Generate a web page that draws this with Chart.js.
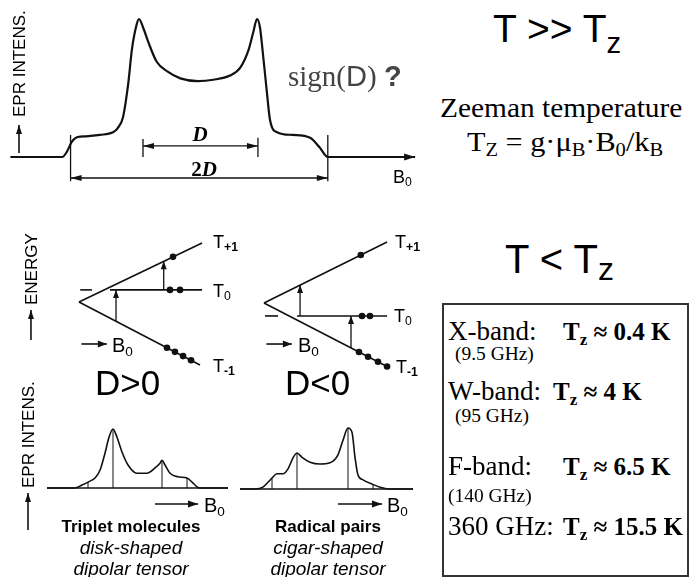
<!DOCTYPE html>
<html>
<head>
<meta charset="utf-8">
<script src="https://cdn.jsdelivr.net/npm/chart.js@4.4.1/dist/chart.umd.min.js"></script>
<style>
  body { margin: 0; background: #fff; }
  #page { position: relative; width: 689px; height: 577px; overflow: hidden; background: #fff; }
  canvas { position: absolute; }
  .t { position: absolute; line-height: 1; white-space: nowrap; color: #000; transform-origin: left top; }
  .sans { font-family: "Liberation Sans", Arial, sans-serif; }
  .serif { font-family: "Liberation Serif", "Times New Roman", serif; }
  .sb { font-size: 0.68em; position: relative; top: 0.28em; }
  .rot { transform: rotate(-90deg); }
  .cap { width: 200px; text-align: center; }
  .wide { transform: scaleX(1.08); }
  #box { position: absolute; left: 442px; top: 303px; width: 243px; height: 270px; border: 2px solid #333; }
</style>
</head>
<body>
<div id="page">
  <canvas id="topChart"></canvas>
  <canvas id="posLevels"></canvas>
  <canvas id="negLevels"></canvas>
  <canvas id="posSpectrum"></canvas>
  <canvas id="negSpectrum"></canvas>

  <!-- high temperature powder spectrum -->
  <div class="t sans rot" style="left:11px;top:117px;font-size:17px">EPR INTENS.</div>
  <div class="t serif cap" style="left:100px;top:124px;font-size:21px;font-weight:bold;font-style:italic">D</div>
  <div class="t serif cap" style="left:104px;top:159px;font-size:21px;font-weight:bold">2<i>D</i></div>
  <div class="t sans" style="left:393px;top:168px;font-size:18px">B<span class="sb">0</span></div>
  <div class="t serif" style="left:288px;top:62px;font-size:29px;color:#444">sign(<span class="sans">D</span>) <b class="sans">?</b></div>

  <div class="t sans" style="left:493px;top:9px;font-size:39px">T &gt;&gt; T<span style="font-size:0.75em;position:relative;top:0.38em">z</span></div>
  <div class="t serif" style="left:440px;top:94px;font-size:28px;transform:scaleX(1.05)">Zeeman temperature</div>
  <div class="t serif wide" style="left:467px;top:128px;font-size:28px">T<span class="sb">Z</span> = g·μ<span class="sb">B</span>·B<span class="sb">0</span>/k<span class="sb">B</span></div>

  <!-- level schemes -->
  <div class="t sans rot" style="left:23px;top:305px;font-size:17px">ENERGY</div>
  <div class="t sans" style="left:112px;top:335px;font-size:20px">B<span class="sb">0</span></div>
  <div class="t sans" style="left:298px;top:335px;font-size:20px">B<span class="sb">0</span></div>
  <div class="t sans" style="left:213px;top:233px;font-size:18px">T<span class="sb" style="font-weight:bold">+1</span></div>
  <div class="t sans" style="left:213px;top:282px;font-size:18px">T<span class="sb">0</span></div>
  <div class="t sans" style="left:213px;top:357px;font-size:18px">T<span class="sb" style="font-weight:bold">-1</span></div>
  <div class="t sans" style="left:395px;top:233px;font-size:18px">T<span class="sb" style="font-weight:bold">+1</span></div>
  <div class="t sans" style="left:394px;top:307px;font-size:18px">T<span class="sb">0</span></div>
  <div class="t sans" style="left:396px;top:358px;font-size:18px">T<span class="sb" style="font-weight:bold">-1</span></div>
  <div class="t sans" style="left:95px;top:365px;font-size:35px">D&gt;0</div>
  <div class="t sans" style="left:285px;top:365px;font-size:35px">D&lt;0</div>

  <!-- polarised spectra -->
  <div class="t sans rot" style="left:20px;top:488px;font-size:17px">EPR INTENS.</div>
  <div class="t sans" style="left:204px;top:495px;font-size:20px">B<span class="sb">0</span></div>
  <div class="t sans" style="left:387px;top:495px;font-size:20px">B<span class="sb">0</span></div>
  <div class="t sans cap" style="left:31px;top:518px;font-size:17px;font-weight:bold">Triplet molecules</div>
  <div class="t sans cap" style="left:31px;top:538px;font-size:19px;font-style:italic">disk-shaped</div>
  <div class="t sans cap" style="left:31px;top:559px;font-size:19px;font-style:italic">dipolar tensor</div>
  <div class="t sans cap" style="left:228px;top:518px;font-size:17px;font-weight:bold">Radical pairs</div>
  <div class="t sans cap" style="left:228px;top:538px;font-size:19px;font-style:italic">cigar-shaped</div>
  <div class="t sans cap" style="left:228px;top:559px;font-size:19px;font-style:italic">dipolar tensor</div>

  <!-- low temperature table -->
  <div class="t sans" style="left:505px;top:239px;font-size:40px">T &lt; T<span style="font-size:0.8em;position:relative;top:0.22em">z</span></div>
  <div id="box"></div>
  <div class="t serif" style="left:448px;top:318px;font-size:27px">X-band:</div>
  <div class="t serif" style="left:563px;top:319px;font-size:25px;font-weight:bold">T<span class="sb">z</span> ≈ 0.4 K</div>
  <div class="t serif wide" style="left:455px;top:345px;font-size:18px">(9.5 GHz)</div>
  <div class="t serif" style="left:448px;top:378px;font-size:27px">W-band:</div>
  <div class="t serif" style="left:553px;top:379px;font-size:25px;font-weight:bold">T<span class="sb">z</span> ≈ 4 K</div>
  <div class="t serif wide" style="left:455px;top:407px;font-size:18px">(95 GHz)</div>
  <div class="t serif" style="left:448px;top:453px;font-size:27px">F-band:</div>
  <div class="t serif" style="left:563px;top:454px;font-size:25px;font-weight:bold">T<span class="sb">z</span> ≈ 6.5 K</div>
  <div class="t serif wide" style="left:448px;top:487px;font-size:18px">(140 GHz)</div>
  <div class="t serif" style="left:448px;top:513px;font-size:27px">360 GHz:</div>
  <div class="t serif" style="left:563px;top:514px;font-size:25px;font-weight:bold">T<span class="sb">z</span> ≈ 15.5 K</div>
</div>

<script>
// powder pattern at high temperature (field in units of D, intensity normalised to the horns)
const topField = [-1.59, -1.15, -1.11, -1.07, -1.02, -0.95, -0.83, -0.72, -0.68, -0.635, -0.59, -0.56, -0.52, -0.50,
  -0.466, -0.42, -0.35, -0.26, -0.15, 0, 0.13, 0.27, 0.36, 0.43, 0.47, 0.50, 0.525, 0.55, 0.585, 0.61, 0.67, 0.80,
  0.95, 1.03, 1.10, 1.84];
const topIntensity = [0, 0, 0.04, 0.11, 0.145, 0.15, 0.16, 0.18, 0.21, 0.29, 0.54, 0.78, 0.96, 1.0,
  0.94, 0.83, 0.69, 0.62, 0.57, 0.55, 0.56, 0.59, 0.65, 0.78, 0.91, 1.0, 0.94, 0.75, 0.46, 0.27, 0.18, 0.16,
  0.14, 0.07, 0, 0];
const topEdges = [-1.08, 1.10];       // outer turning points (2D)
const topHorns = [-0.466, 0.508];     // horn positions (D)

// level schemes, B0 and energy in the same arbitrary unit; order T+1, T0, T-1
const posLevelB = [[0, 1.017], [0.256, 1.017], [0, 1.0]];
const posLevelE = [[0, 0.488], [0.1, 0.1], [0, -0.52]];
const posZeroB = [0.01, 0.107];
const posArrowB = [0.306, 0.70];
const posArrowFrom = [-0.159, 0.1];
const posArrowTo = [0.1, 0.336];
const posDotB = [0.777, 0.752, 0.835, 0.727, 0.793, 0.86, 0.926];
const posDotE = [0.373, 0.1, 0.1, -0.378, -0.412, -0.447, -0.482];

const negLevelB = [[0, 1.017], [0.273, 1.017], [0, 1.025]];
const negLevelE = [[0, 0.504], [-0.107, -0.107], [0, -0.529]];
const negZeroB = [0.008, 0.116];
const negArrowB = [0.298, 0.719];
const negArrowFrom = [-0.107, -0.371];
const negArrowTo = [0.148, -0.107];
const negDotB = [0.80, 0.81, 0.876, 0.785, 0.86, 0.942, 1.017];
const negDotE = [0.397, -0.107, -0.107, -0.405, -0.444, -0.486, -0.525];

// spin polarised spectra at low temperature
const posSpecField = [-1.86, -1.3, -1.16, -1.04, -0.9, -0.8, -0.7, -0.62, -0.54, -0.46, -0.36, -0.24, -0.06, 0.14,
  0.3, 0.4, 0.44, 0.5, 0.6, 0.76, 0.94, 1.04, 1.14, 1.2, 1.76];
const posSpecInt = [0, 0, 0.05, 0.10, 0.17, 0.3, 0.59, 0.86, 1.0, 0.86, 0.61, 0.39, 0.25, 0.25,
  0.34, 0.42, 0.47, 0.39, 0.25, 0.19, 0.17, 0.10, 0.02, 0, 0];
const posStickField = [-1.04, -0.54, 0.44, 0.94];
const posStickInt = [0.10, 1.0, 0.47, 0.17];

const negSpecField = [-1.6, -1.3, -1.14, -1.04, -0.96, -0.86, -0.74, -0.64, -0.54, -0.46, -0.36, -0.2, 0, 0.2,
  0.36, 0.46, 0.56, 0.64, 0.7, 0.76, 0.86, 1.04, 1.2, 1.36, 1.86];
const negSpecInt = [0, 0, 0.03, 0.11, 0.18, 0.25, 0.25, 0.33, 0.51, 0.59, 0.52, 0.44, 0.41, 0.43,
  0.56, 0.80, 1.0, 0.93, 0.52, 0.23, 0.15, 0.08, 0.03, 0, 0];
const negStickField = [-0.96, -0.46, 0.56, 1.06];
const negStickInt = [0.18, 0.59, 1.0, 0.07];

const ink = "#111";

// canvas box on the page, pixel where value 0 sits, pixels per unit
let place = (id, left, top, w, h, zx, zy, kx, ky) => {
  let c = document.getElementById(id);
  c.width = w;
  c.height = h;
  c.style.left = left + "px";
  c.style.top = top + "px";
  return {
    x: [(left - zx) / kx, (left + w - zx) / kx],
    y: [(zy - top - h) / ky, (zy - top) / ky],
  };
};

let curve = (xs, ys, width, extra = {}) => Object.assign({
  data: xs.map((x, i) => ({ x: x, y: ys[i] })),
  showLine: true,
  borderColor: ink,
  borderWidth: width,
  pointRadius: 0,
  cubicInterpolationMode: "monotone",
}, extra);

let dots = (xs, ys) => ({
  data: xs.map((x, i) => ({ x: x, y: ys[i] })),
  showLine: false,
  pointRadius: 3.3,
  pointBorderWidth: 0,
  pointBackgroundColor: ink,
});

let line = (ctx, x1, y1, x2, y2) => {
  ctx.beginPath();
  ctx.moveTo(x1, y1);
  ctx.lineTo(x2, y2);
  ctx.stroke();
};

let head = (ctx, x1, y1, x2, y2, len, half) => {
  let a = Math.atan2(y2 - y1, x2 - x1);
  let bx = x2 - len * Math.cos(a);
  let by = y2 - len * Math.sin(a);
  ctx.beginPath();
  ctx.moveTo(x2, y2);
  ctx.lineTo(bx + half * Math.sin(a), by - half * Math.cos(a));
  ctx.lineTo(bx - half * Math.sin(a), by + half * Math.cos(a));
  ctx.closePath();
  ctx.fill();
};

let arrow = (ctx, x1, y1, x2, y2, len = 9, half = 3) => {
  line(ctx, x1, y1, x2, y2);
  head(ctx, x1, y1, x2, y2, len, half);
};

let makeChart = (id, box, datasets, marks) => new Chart(document.getElementById(id), {
  type: "scatter",
  data: { datasets: datasets },
  options: {
    responsive: false,
    animation: false,
    events: [],
    layout: { padding: 0, autoPadding: false },
    plugins: { legend: { display: false }, tooltip: { enabled: false } },
    scales: {
      x: { type: "linear", display: false, min: box.x[0], max: box.x[1] },
      y: { type: "linear", display: false, min: box.y[0], max: box.y[1] },
    },
  },
  plugins: [{
    id: "marks",
    afterDatasetsDraw: (chart) => {
      let ctx = chart.ctx;
      let X = (v) => chart.scales.x.getPixelForValue(v);
      let Y = (v) => chart.scales.y.getPixelForValue(v);
      ctx.save();
      ctx.strokeStyle = ink;
      ctx.fillStyle = ink;
      marks(ctx, X, Y);
      ctx.restore();
    },
  }],
});

// top: powder pattern with D and 2D
let topBox = place("topChart", 0, 0, 430, 200, 198, 157, 118, 138);
makeChart("topChart", topBox, [curve(topField, topIntensity, 2.2)], (ctx, X, Y) => {
  head(ctx, X(1.7), Y(0), X(1.84), Y(0), 11, 3.5);
  ctx.lineWidth = 1.3;
  for (let f of topEdges) line(ctx, X(f), Y(0.16), X(f), Y(-0.175));
  line(ctx, X(topHorns[0]), Y(0.13), X(topHorns[0]), Y(0));
  line(ctx, X(topHorns[1]), Y(0.14), X(topHorns[1]), Y(0));
  arrow(ctx, X(0), Y(0.08), X(topHorns[0]), Y(0.08), 11, 3);
  arrow(ctx, X(0), Y(0.08), X(topHorns[1]), Y(0.08), 11, 3);
  arrow(ctx, X(0), Y(-0.152), X(topEdges[0]), Y(-0.152), 11, 3);
  arrow(ctx, X(0), Y(-0.152), X(topEdges[1]), Y(-0.152), 11, 3);
  ctx.lineWidth = 1.6;
  arrow(ctx, X(-1.517), Y(0.029), X(-1.517), Y(0.232), 9, 3);
});

// level schemes; axis = [B, E from, E to] of the energy arrow, or null
let levelChart = (id, box, levelB, levelE, zeroB, arrowB, from, to, dotB, dotE, fieldE, axis) => {
  let sets = levelB.map((b, i) => curve(b, levelE[i], 1.6, { cubicInterpolationMode: "default" }));
  sets.push(curve(zeroB, [levelE[1][0], levelE[1][0]], 1.6));
  sets.push(dots(dotB, dotE));
  makeChart(id, box, sets, (ctx, X, Y) => {
    ctx.lineWidth = 1.3;
    arrowB.forEach((b, i) => arrow(ctx, X(b), Y(from[i]), X(b), Y(to[i]), 8, 3));
    ctx.lineWidth = 1.6;
    arrow(ctx, X(0.02), Y(fieldE), X(0.23), Y(fieldE), 9, 3.5);
    if (axis) arrow(ctx, X(axis[0]), Y(axis[1]), X(axis[0]), Y(axis[2]), 9, 3);
  });
};

let posBox = place("posLevels", 20, 225, 190, 155, 79, 302, 121, 121);
levelChart("posLevels", posBox, posLevelB, posLevelE, posZeroB, posArrowB, posArrowFrom, posArrowTo,
  posDotB, posDotE, -0.347, [-0.397, -0.314, -0.066]);
let negBox = place("negLevels", 240, 225, 160, 155, 264, 303, 121, 121);
levelChart("negLevels", negBox, negLevelB, negLevelE, negZeroB, negArrowB, negArrowFrom, negArrowTo,
  negDotB, negDotE, -0.339, null);

// polarised spectra with canonical orientations
let specChart = (id, box, field, inten, stickF, stickI, base, arrowSpan, arrowY, extra) => {
  makeChart(id, box, [curve(field, inten, 1.6)], (ctx, X, Y) => {
    ctx.lineWidth = 1.6;
    line(ctx, X(base[0]), Y(0), X(base[1]), Y(0));
    ctx.lineWidth = 1;
    stickF.forEach((f, i) => line(ctx, X(f), Y(0), X(f), Y(stickI[i])));
    ctx.lineWidth = 1.3;
    arrow(ctx, X(arrowSpan[0]), Y(arrowY), X(arrowSpan[1]), Y(arrowY), 10, 3.5);
    if (extra) extra(ctx, X, Y);
  });
};

let posSpecBox = place("posSpectrum", 10, 415, 230, 130, 140, 488, 50, 59);
specChart("posSpectrum", posSpecBox, posSpecField, posSpecInt, posStickField, posStickInt,
  [-1.86, 1.76], [0.3, 1.16], -0.271, (ctx, X, Y) => {
    ctx.lineWidth = 1.6;
    arrow(ctx, X(-2.24), Y(-0.712), X(-2.24), Y(-0.085), 9, 3);
  });
let negSpecBox = place("negSpectrum", 232, 415, 190, 100, 320, 489, 50, 61);
specChart("negSpectrum", negSpecBox, negSpecField, negSpecInt, negStickField, negStickInt,
  [-1.6, 1.86], [0.36, 1.24], -0.246);
</script>
</body>
</html>
